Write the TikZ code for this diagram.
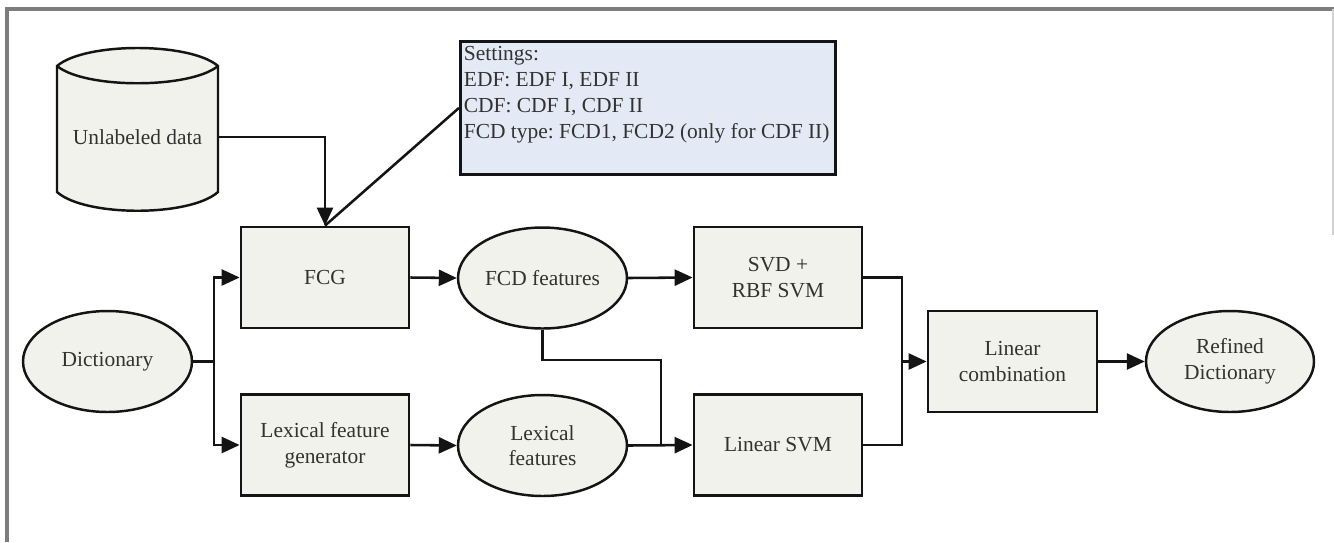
\documentclass[tikz,border=0pt]{standalone}
\usepackage{fontspec}
\setmainfont{Liberation Serif}
\usetikzlibrary{arrows.meta,shapes.geometric}
\definecolor{boxfill}{RGB}{242,242,236}
\definecolor{setfill}{RGB}{228,234,245}
\definecolor{txt}{RGB}{50,50,50}
\definecolor{ln}{RGB}{20,20,20}
\definecolor{frame}{RGB}{125,125,125}
\frenchspacing
\begin{document}
\begin{tikzpicture}[x=0.02cm,y=-0.02cm,
  every node/.style={font=\fontsize{12.2}{14.6}\selectfont, text=txt, align=center},
  procbox/.style={draw=ln, line width=1.6pt, fill=boxfill, rectangle, minimum width=3.36cm, minimum height=2.02cm, inner sep=2pt},
  databox/.style={draw=ln, line width=1.4pt, fill=boxfill, ellipse, minimum width=3.38cm, minimum height=2.02cm, inner sep=0pt},
  conn/.style={draw=ln, line width=1.45pt},
  arr/.style={conn, -{Triangle[length=0.36cm,width=0.32cm]}}]
\useasboundingbox (0,0) rectangle (1334,542);
\fill[white] (0,0) rectangle (1334,542);
% outer frame
\draw[frame, line width=1.8pt] (7,542) -- (7,9) -- (1334,9);
\draw[black!18, line width=1pt] (1333,9) -- (1333,235);

% cylinder
\filldraw[draw=ln, line width=1.4pt, fill=boxfill]
  (57,66) .. controls (85,42) and (190,42) .. (218,66)
  -- (218,192) .. controls (190,217) and (85,217) .. (57,192) -- cycle;
\draw[ln, line width=1.4pt] (57,66) .. controls (85,89) and (190,89) .. (218,66);
\node[minimum width=3.22cm, inner sep=0pt] (ud) at (137.5,137) {Unlabeled data};

% settings
\node[draw=ln, line width=1.6pt, fill=setfill, anchor=north west, inner xsep=2pt, inner ysep=0.1cm, align=left] (settings) at (459,40)
  {\parbox[t][2.46cm][t]{7.36cm}{\fontsize{12.2}{13.2}\selectfont\frenchspacing\setlength{\baselineskip}{0.52cm}Settings:\\EDF: EDF I, EDF II\\CDF: CDF I, CDF II\\FCD type: FCD1, FCD2 (only for CDF II)}};

% nodes
\node[databox] (dict) at (107.5,361.5) {Dictionary};
\node[procbox] (fcg) at (325,277.5) {FCG};
\node[procbox] (lex) at (325,445) {Lexical feature\\generator};
\node[databox] (fcdf) at (542.5,278) {FCD features};
\node[databox] (lexf) at (542.5,445.5) {Lexical\\features};
\node[procbox] (svd) at (778,277.5) {SVD +\\RBF SVM};
\node[procbox] (lsvm) at (778,445) {Linear SVM};
\node[procbox, minimum width=3.38cm] (lc) at (1012.5,361.5) {Linear\\combination};
\node[databox, minimum width=3.36cm] (rd) at (1230,361.5) {Refined\\Dictionary};

% connectors
\draw[arr] (ud.east) -| (fcg.north);
\draw[conn] (fcg.north) -- (settings.west);
\coordinate (br) at (214,361.5);
\draw[conn] (dict.east) -- (br);
\draw[arr] (br) |- (fcg.west);
\draw[arr] (br) |- (lex.west);
\draw[arr] (fcg.east) -- (fcdf.west);
\draw[arr] (lex.east) -- (lexf.west);
\draw[arr] (fcdf.east) -- (svd.west);
\draw[arr] (lexf.east) -- (lsvm.west);
\coordinate (jm) at (661,360);
\draw[conn] (fcdf.south) |- (jm) -- (jm |- lsvm.west);
\coordinate (mg) at (902,361.5);
\draw[conn] (svd.east) -| (mg);
\draw[conn] (lsvm.east) -| (mg);
\draw[arr] (mg) -- (lc.west);
\draw[arr] (lc.east) -- (rd.west);
\end{tikzpicture}
\end{document}
